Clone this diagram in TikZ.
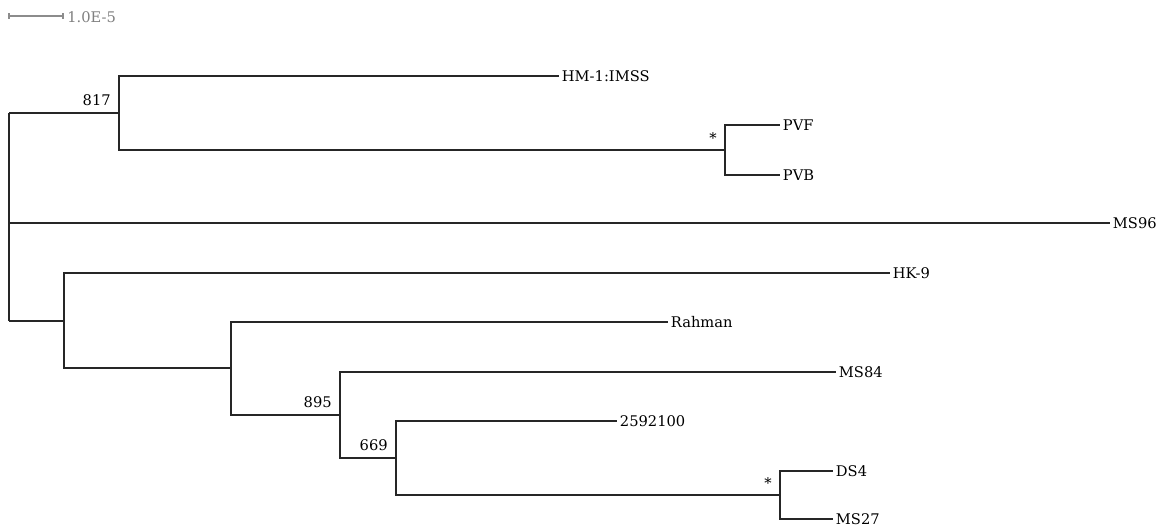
\documentclass[tikz,border=0pt]{standalone}
\usepackage{fontspec}
\setmainfont{DejaVu Serif}
\begin{document}
\begin{tikzpicture}[x=0.75pt,y=-0.75pt,
  branch/.style={line width=1pt,draw=black!85},
  leaf/.style={anchor=west,inner sep=0pt,xshift=2pt,font=\fontsize{11}{13}\selectfont},
  boot/.style={anchor=south east,inner sep=0pt,xshift=-6pt,yshift=5pt,font=\fontsize{11}{13}\selectfont},
  scalebar/.style={line width=0.8pt,draw=black!45},
  scaletext/.style={anchor=west,inner sep=0pt,text=black!50,font=\fontsize{11}{13}\selectfont}]
\useasboundingbox (0,0) rectangle (1161,529);
% scale bar
\coordinate (sb1) at (9,16);
\coordinate (sb2) at (63,16);
\draw[scalebar] (sb1) -- (sb2);
\draw[scalebar] ([yshift=-2.2pt]sb1) -- ([yshift=2.2pt]sb1);
\draw[scalebar] ([yshift=-2.2pt]sb2) -- ([yshift=2.2pt]sb2);
\node[scaletext] (sbt) at (67,17) {1.0E-5};
% internal nodes
\coordinate (root) at (9,223);
\coordinate (rtop) at (9,113);
\coordinate (rbot) at (9,321);
\coordinate (n817) at (119,113);
\coordinate (npv) at (725,150);
\coordinate (nhk) at (64,321);
\coordinate (nrah) at (231,368);
\coordinate (n895) at (340,415);
\coordinate (n669) at (396,458);
\coordinate (nds) at (780,495);
% leaf ends
\coordinate (eHM) at (559,76);
\coordinate (ePVF) at (780,125);
\coordinate (ePVB) at (780,175);
\coordinate (eMS96) at (1110,223);
\coordinate (eHK) at (890,273);
\coordinate (eRah) at (668,322);
\coordinate (eMS84) at (836,372);
\coordinate (e259) at (617,421);
\coordinate (eDS4) at (833,471);
\coordinate (eMS27) at (833,519);
% labels
\node[leaf] (lHM) at (eHM) {HM-1:IMSS};
\node[leaf] (lPVF) at (ePVF) {PVF};
\node[leaf] (lPVB) at (ePVB) {PVB};
\node[leaf] (lMS96) at (eMS96) {MS96};
\node[leaf] (lHK) at (eHK) {HK-9};
\node[leaf] (lRah) at (eRah) {Rahman};
\node[leaf] (lMS84) at (eMS84) {MS84};
\node[leaf] (l259) at (e259) {2592100};
\node[leaf] (lDS4) at (eDS4) {DS4};
\node[leaf] (lMS27) at (eMS27) {MS27};
% bootstrap labels
\node[boot] (b817) at (n817) {817};
\node[boot] (bpv) at (npv) {*};
\node[boot] (b895) at (n895) {895};
\node[boot] (b669) at (n669) {669};
\node[boot] (bds) at (nds) {*};
% branches
\draw[branch] (rtop) -- (rbot);
\draw[branch] (root) -- (eMS96);
\draw[branch] (rtop) -- (n817);
\draw[branch] (rbot) -- (nhk);
\draw[branch] (n817) |- (eHM);
\draw[branch] (n817) |- (npv);
\draw[branch] (npv) |- (ePVF);
\draw[branch] (npv) |- (ePVB);
\draw[branch] (nhk) |- (eHK);
\draw[branch] (nhk) |- (nrah);
\draw[branch] (nrah) |- (eRah);
\draw[branch] (nrah) |- (n895);
\draw[branch] (n895) |- (eMS84);
\draw[branch] (n895) |- (n669);
\draw[branch] (n669) |- (e259);
\draw[branch] (n669) |- (nds);
\draw[branch] (nds) |- (eDS4);
\draw[branch] (nds) |- (eMS27);
\end{tikzpicture}
\end{document}
